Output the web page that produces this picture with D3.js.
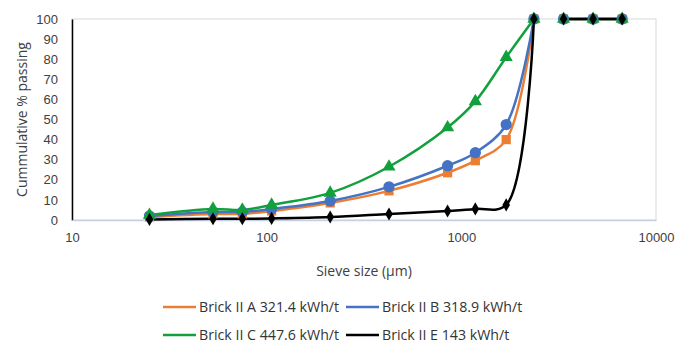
<!DOCTYPE html>
<html>
<head>
<meta charset="utf-8">
<script src="https://cdn.jsdelivr.net/npm/d3@7"></script>
<style>
  body { margin: 0; background: #fff; }
  svg { font-family: "Open Sans", "Liberation Sans", sans-serif; }
</style>
</head>
<body>
<div id="chart"></div>
<script>
// sieve sizes in µm
const sizes = [25, 53, 75, 106, 212, 425, 850, 1180, 1700, 2360, 3350, 4750, 6700]
// the line is broken between these two sizes
const gapAfter = 2360

const brickA = [1.5, 3, 3, 4.5, 8.5, 14.5, 23.5, 29.5, 40, 100, 100, 100, 100]
const brickB = [2, 4, 4, 5.5, 9.5, 16.5, 27, 33.5, 47.5, 100, 100, 100, 100]
const brickC = [2.5, 5.5, 5, 7.5, 13.5, 26.5, 46, 59, 81, 100, 100, 100, 100]
const brickE = [0.3, 0.6, 0.6, 0.8, 1.5, 3, 4.5, 5.5, 7.5, 100, 100, 100, 100]

const seriesNames = ["Brick II A 321.4 kWh/t", "Brick II B 318.9 kWh/t", "Brick II C 447.6 kWh/t", "Brick II E 143 kWh/t"]
const xTicks = [10, 100, 1000, 10000]
const yTicks = [0, 10, 20, 30, 40, 50, 60, 70, 80, 90, 100]

const series = [
  { name: seriesNames[0], values: brickA, color: "#ED7D31", marker: "square" },
  { name: seriesNames[1], values: brickB, color: "#4472C4", marker: "circle" },
  { name: seriesNames[2], values: brickC, color: "#11A03C", marker: "triangle" },
  { name: seriesNames[3], values: brickE, color: "#000000", marker: "diamond" }
]

const width = 675, height = 344
const margin = { top: 19, right: 19, bottom: 124, left: 72 }

const svg = d3.select("#chart").append("svg")
  .attr("width", width).attr("height", height)

const x = d3.scaleLog()
  .domain([10, 10000])
  .range([margin.left, width - margin.right])

const y = d3.scaleLinear()
  .domain([0, 100])
  .range([height - margin.bottom, margin.top])

// plot area border
svg.append("rect")
  .attr("x", x(10)).attr("y", y(100))
  .attr("width", x(10000) - x(10)).attr("height", y(0) - y(100))
  .attr("fill", "none").attr("stroke", "#d9d9d9")

// y axis
svg.append("g")
  .attr("transform", `translate(${x(10)},0)`)
  .call(d3.axisLeft(y).tickValues(yTicks).tickSize(0).tickPadding(14))
  .call(g => g.select(".domain").attr("stroke", "#000").attr("stroke-width", 1.5))
  .call(g => g.selectAll("text").attr("font-size", 13).attr("fill", "#404040"))

// x axis
svg.append("g")
  .attr("transform", `translate(0,${y(0)})`)
  .call(d3.axisBottom(x).tickValues(xTicks).tickFormat(d3.format("d")).tickSize(0).tickPadding(13))
  .call(g => g.select(".domain").attr("stroke", "#c5d0e6").attr("stroke-width", 1.5))
  .call(g => g.selectAll("text").attr("font-size", 13).attr("fill", "#404040"))

// axis titles
svg.append("text")
  .attr("transform", `translate(27,${(y(0) + y(100)) / 2}) rotate(-90)`)
  .attr("text-anchor", "middle")
  .attr("font-size", 14).attr("fill", "#404040")
  .text("Cummulative % passing")

svg.append("text")
  .attr("x", 364).attr("y", 276)
  .attr("text-anchor", "middle")
  .attr("font-size", 14).attr("fill", "#404040")
  .text("Sieve size (µm)")

const symbols = {
  square: d3.symbol(d3.symbolSquare, 85),
  circle: d3.symbol(d3.symbolCircle, 100),
  triangle: d3.symbol(d3.symbolTriangle, 75),
  diamond: d3.symbol(d3.symbolDiamond, 50)
}
const legendSymbols = {
  square: d3.symbol(d3.symbolSquare, 50),
  circle: d3.symbol(d3.symbolCircle, 50),
  triangle: d3.symbol(d3.symbolTriangle, 45),
  diamond: d3.symbol(d3.symbolDiamond, 35)
}

const line = d3.line()
  .x(d => x(d.size))
  .y(d => y(d.value))
  .curve(d3.curveCatmullRom.alpha(0.5))

// lines first, then markers, in series order
series.forEach(s => {
  const pts = sizes.map((size, i) => ({ size, value: s.values[i] }))
  const segs = [pts.filter(p => p.size <= gapAfter), pts.filter(p => p.size > gapAfter)]
  svg.append("g").selectAll("path")
    .data(segs)
    .join("path")
    .attr("d", line)
    .attr("fill", "none")
    .attr("stroke", s.color)
    .attr("stroke-width", 2.5)
})

series.forEach(s => {
  svg.append("g").selectAll("path")
    .data(sizes.map((size, i) => ({ size, value: s.values[i] })))
    .join("path")
    .attr("transform", d => `translate(${x(d.size)},${y(d.value)})`)
    .attr("d", symbols[s.marker])
    .attr("fill", s.color)
})

// legend
const legendPos = [[163, 307], [346, 307], [163, 335], [346, 335]]
const legend = svg.append("g")
  .selectAll("g")
  .data(series)
  .join("g")
  .attr("transform", (d, i) => `translate(${legendPos[i][0]},${legendPos[i][1]})`)

legend.append("line")
  .attr("x1", 0).attr("x2", 33)
  .attr("stroke", d => d.color).attr("stroke-width", 2.5)

legend.append("path")
  .attr("transform", "translate(16.5,0)")
  .attr("d", d => legendSymbols[d.marker])
  .attr("fill", d => d.color)

legend.append("text")
  .attr("x", 36).attr("dy", "0.35em")
  .attr("font-size", 14.2).attr("fill", "#333")
  .text(d => d.name)
</script>
</body>
</html>
